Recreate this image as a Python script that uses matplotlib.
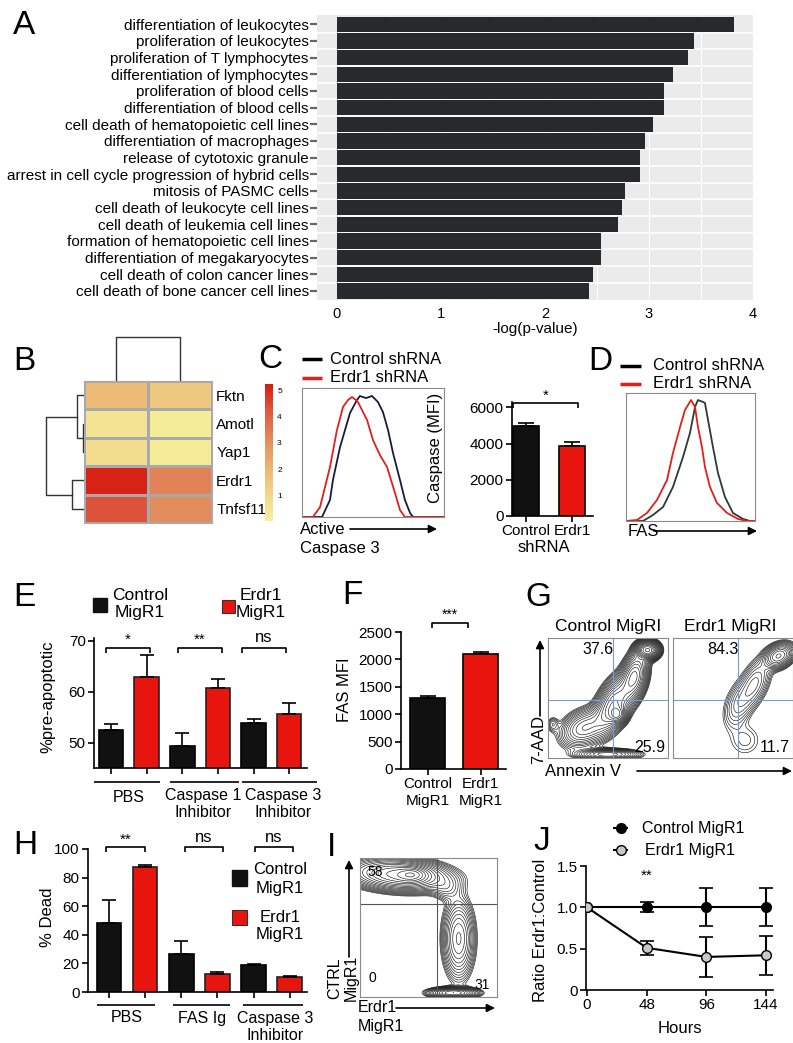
import numpy as np
import matplotlib.pyplot as plt
from matplotlib.colors import LinearSegmentedColormap, Normalize
from matplotlib.cm import ScalarMappable
from matplotlib.patches import Rectangle

plt.rcParams['font.family'] = ['Liberation Sans', 'DejaVu Sans']

RED = '#e8140e'
BLK = '#111111'

# ---------------- data ----------------
# A: IPA pathway terms
go_terms = ['differentiation of leukocytes', 'proliferation of leukocytes',
            'proliferation of T lymphocytes', 'differentiation of lymphocytes',
            'proliferation of blood cells', 'differentiation of blood cells',
            'cell death of hematopoietic cell lines', 'differentiation of macrophages',
            'release of cytotoxic granule', 'arrest in cell cycle progression of hybrid cells',
            'mitosis of PASMC cells', 'cell death of leukocyte cell lines',
            'cell death of leukemia cell lines', 'formation of hematopoietic cell lines',
            'differentiation of megakaryocytes', 'cell death of colon cancer lines',
            'cell death of bone cancer cell lines']
go_logp = [3.82, 3.43, 3.38, 3.23, 3.14, 3.14, 3.04, 2.96, 2.91, 2.91,
           2.77, 2.74, 2.70, 2.54, 2.54, 2.46, 2.42]

# B: heatmap
hm_genes = ['Fktn', 'Amotl', 'Yap1', 'Erdr1', 'Tnfsf11']
hm_values = np.array([[1.9, 1.5], [0.6, 0.2], [0.8, 0.3], [5.1, 3.3], [4.3, 3.1]])
# row dendrogram merges: (row a, row b, height)
row_merges = [(1, 2, 0.4), (0, 1.5, 2.6), (3, 4, 4.6), (0.75, 3.5, 14.5)]
col_merge_height = 3.0

# C: caspase 3 histograms
c_red_x = [0, 7.7, 12.7, 19.7, 24.6, 28.9, 32.4, 35.2, 38.0, 39.4, 45.8, 50.0, 54.9, 59.9, 65.5, 69.0, 72.5, 100]
c_red_y = [0, 0, 7.7, 38.7, 67.4, 85.3, 90.7, 93.0, 90.7, 89.1, 75.2, 59.6, 48.0, 38.7, 18.6, 5.4, 0, 0]
c_blk_x = [0, 14.1, 19.7, 21.8, 26.8, 33.8, 38.7, 40.8, 45.1, 49.3, 53.5, 57.0, 60.6, 64.1, 69.0, 72.5, 76.1, 78.2, 100]
c_blk_y = [0, 0, 13.2, 28.7, 54.3, 80.6, 90.7, 93.8, 92.2, 93.8, 89.1, 81.4, 67.4, 49.6, 28.7, 13.2, 3.1, 0, 0]
c_groups = ['Control', 'Erdr1']
c_mfi = [5000, 3850]
c_err = [150, 230]

# D: FAS histograms
d_red_x = [0, 8.5, 16.3, 24.0, 31.8, 36.4, 41.9, 45.7, 50.4, 53.5, 55.8, 58.9, 61.2, 65.1, 70.5, 78.3, 86.8, 93.8, 100]
d_red_y = [0, 0.8, 6.3, 16.4, 32.0, 53.1, 73.4, 86.7, 94.5, 89.1, 73.4, 57.8, 42.2, 26.6, 14.1, 6.3, 1.6, 0, 0]
d_blk_x = [0, 13.2, 20.9, 28.7, 36.4, 44.2, 49.6, 53.5, 55.8, 59.7, 61.2, 63.6, 67.4, 71.3, 76.7, 82.9, 90.7, 96.1, 100]
d_blk_y = [0, 0, 4.7, 10.9, 26.6, 50.0, 68.8, 89.1, 94.5, 93.0, 92.2, 78.9, 57.8, 37.5, 18.8, 6.3, 1.6, 0, 0]

# E: % pre-apoptotic
e_ctrl = [52.4, 49.4, 53.9]
e_ctrl_err = [1.2, 2.4, 0.7]
e_erdr1 = [62.8, 60.6, 55.5]
e_erdr1_err = [4.3, 1.9, 2.3]

# F: FAS MFI
f_groups = ['Control\nMigR1', 'Erdr1\nMigR1']
f_mfi = [1300, 2100]
f_err = [40, 35]

# G / I: flow populations (cx, cy, sx, sy, rho, weight) in % of plot range
g_ctrl_pops = [(83, 90, 5, 4, 0.0, 1.0), (72, 68, 6, 11, 0.3, 0.45), (55, 45, 9, 13, 0.5, 0.45),
               (58, 36, 4, 4, 0.0, 0.35), (30, 25, 11, 9, 0.3, 0.25), (50, 3, 14, 2.5, 0.0, 0.3),
               (4, 28, 3, 4, 0.0, 0.06)]
g_erdr1_pops = [(88, 85, 6, 5, 0.3, 1.0), (68, 62, 7, 11, 0.5, 0.25),
                (55, 45, 7, 11, 0.4, 0.15), (60, 15, 9, 9, 0.0, 0.05)]
i_pops = [(28, 88, 19, 6, -0.2, 1.0), (38, 88, 6, 3, 0.0, 0.6), (72, 42, 6, 15, 0.0, 0.5),
          (68, 3, 9, 2, 0.0, 0.9), (63, 78, 6, 5, 0.0, 0.12)]

# H: % dead
h_ctrl = [48, 26.5, 19]
h_ctrl_err = [16, 9, 0.6]
h_erdr1 = [87.5, 12.5, 10.8]
h_erdr1_err = [1.5, 1.2, 0.6]

# J: ratio over time
j_hours = [0, 48, 96, 144]
j_ctrl = [1.0, 1.0, 1.0, 1.0]
j_ctrl_err = [0, 0.06, 0.23, 0.23]
j_erdr1 = [1.0, 0.51, 0.40, 0.42]
j_erdr1_err = [0, 0.085, 0.24, 0.235]

# ---------------- figure ----------------
W, H = 793, 1043
fig = plt.figure(figsize=(W / 100, H / 100), dpi=100)


def axp(x0, y0, x1, y1):
    return fig.add_axes([x0 / W, 1 - y1 / H, (x1 - x0) / W, (y1 - y0) / H])


def prism(ax):
    for s in ['top', 'right']:
        ax.spines[s].set_visible(False)
    for s in ['left', 'bottom']:
        ax.spines[s].set_linewidth(1.2)
    ax.tick_params(width=1.2, length=4, labelsize=11, pad=2)


def box(ax, color='#8a8a8a'):
    for s in ax.spines.values():
        s.set_color(color)
        s.set_linewidth(0.8)
    ax.set_xticks([])
    ax.set_yticks([])


def density(pops, n=220):
    gx, gy = np.meshgrid(np.linspace(0, 100, n), np.linspace(0, 100, n))
    z = np.zeros_like(gx)
    for cx, cy, sx, sy, rho, w in pops:
        dx = (gx - cx) / sx
        dy = (gy - cy) / sy
        z += w * np.exp(-(dx * dx - 2 * rho * dx * dy + dy * dy) / (2 * (1 - rho ** 2)))
    return gx, gy, z


def flow(ax, pops, vx, hy, qcolor, nlev=16):
    gx, gy, z = density(pops)
    levels = z.max() * np.geomspace(0.025, 0.94, nlev)
    ax.contour(gx, gy, z, levels=levels, colors='#1a1a1a', linewidths=0.45)
    ax.axvline(vx, color=qcolor, lw=0.8)
    ax.axhline(hy, color=qcolor, lw=0.8)
    ax.set_xlim(0, 100)
    ax.set_ylim(0, 100)


# ---- A ----
axA = axp(317, 15, 754, 300)
ya = np.arange(len(go_terms))
axA.set_facecolor('#ebebeb')
for g in np.arange(0.5, 4.01, 0.5):
    axA.axvline(g, color='white', lw=0.8, zorder=1)
for g in ya[:-1] + 0.5:
    axA.axhline(g, color='white', lw=1.2, zorder=1)
axA.barh(ya, go_logp, height=0.92, color='#262a2a', zorder=3)
axA.set_xlim(-0.192, 4.01)
axA.set_ylim(len(go_terms) - 0.45, -0.55)
for s in axA.spines.values():
    s.set_visible(False)
axA.set_yticks(ya)
axA.set_yticklabels(go_terms, fontsize=11)
axA.tick_params(axis='y', length=5, width=1.6, color='#666666', pad=1)
axA.set_xticks([0, 1, 2, 3, 4])
axA.tick_params(axis='x', length=0, labelsize=10.5, pad=5)
axA.set_xlabel('-log(p-value)', fontsize=11, labelpad=1)

# ---- B ----
hm_cmap = LinearSegmentedColormap.from_list(
    'hm', ['#f6f09a', '#f1d68a', '#eab372', '#e38a5b', '#dc5a40', '#d61c10'])
hm_norm = Normalize(0.05, 5.23)
axB = axp(84, 381, 212, 523)
axB.pcolormesh(np.arange(3) - 0.5, np.arange(6) - 0.5, hm_values, cmap=hm_cmap, norm=hm_norm,
               edgecolors='#a9a9a9', linewidth=0.8)
axB.set_xlim(-0.5, 1.5)
axB.set_ylim(4.5, -0.5)
for s in axB.spines.values():
    s.set_color('#a9a9a9')
    s.set_linewidth(0.8)
axB.set_xticks([])
axB.set_yticks(range(len(hm_genes)))
axB.set_yticklabels(hm_genes, fontsize=11)
axB.yaxis.tick_right()
axB.tick_params(axis='y', length=0, pad=3)

# row dendrogram from merge list
axRD = axp(44, 381, 84, 523)
node_h = {}
for a, b, h in row_merges:
    ha = node_h.get(a, 0)
    hb = node_h.get(b, 0)
    axRD.plot([ha, h, h, hb], [a, a, b, b], color='#333333', lw=1)
    node_h[(a + b) / 2] = h
axRD.set_xlim(15.3, 0)
axRD.set_ylim(4.5, -0.5)
axRD.axis('off')

axCD = axp(84, 330, 212, 381)
axCD.plot([0, 0, 1, 1], [0, col_merge_height, col_merge_height, 0], color='#333333', lw=1)
axCD.set_xlim(-0.5, 1.5)
axCD.set_ylim(0, 3.45)
axCD.axis('off')

axCB = axp(265, 384, 273, 521)
cb = fig.colorbar(ScalarMappable(norm=hm_norm, cmap=hm_cmap), cax=axCB)
cb.outline.set_visible(False)
cb.set_ticks([1, 2, 3, 4, 5])
axCB.tick_params(length=0, labelsize=6, pad=3)

# ---- C ----
axC1 = axp(302, 388, 444, 517)
axC1.plot(c_blk_x, c_blk_y, color='#1a1a40', lw=1.3)
axC1.plot(c_red_x, c_red_y, color='#e0201a', lw=1.3)
axC1.set_xlim(0, 100)
axC1.set_ylim(0, 100)
box(axC1)

axC2 = axp(512, 402, 593, 516)
xc = np.arange(len(c_groups))
axC2.bar(xc, c_mfi, 0.56, color=[BLK, RED], edgecolor='black', lw=1.2)
axC2.errorbar(xc, c_mfi, yerr=[np.zeros(len(xc)), c_err], fmt='none', ecolor='black',
              elinewidth=1.2, capsize=6, capthick=1.2)
axC2.set_xlim(-0.3, 1.45)
axC2.set_ylim(0, 6300)
axC2.set_yticks([0, 2000, 4000, 6000])
axC2.set_xticks(xc)
axC2.set_xticklabels(c_groups, fontsize=12)
prism(axC2)
axC2.set_ylabel('Caspase (MFI)', fontsize=12)
axC2.yaxis.set_label_coords(-0.85, 0.6)

# ---- D ----
axD = axp(626, 393, 755, 521)
axD.plot(d_blk_x, d_blk_y, color='#2b3b33', lw=1.3)
axD.plot(d_red_x, d_red_y, color='#e0201a', lw=1.3)
axD.set_xlim(0, 100)
axD.set_ylim(0, 100)
box(axD)

# ---- E ----
axE = axp(94, 638, 307, 768)
xe = np.arange(3) * 2
axE.bar(xe, e_ctrl, 0.69, color=BLK, edgecolor='black', lw=1.2)
axE.bar(xe + 1, e_erdr1, 0.69, color=RED, edgecolor='#222222', lw=1.2)
axE.errorbar(xe, e_ctrl, yerr=[np.zeros(3), e_ctrl_err], fmt='none', ecolor='black',
             elinewidth=1.2, capsize=5, capthick=1.2)
axE.errorbar(xe + 1, e_erdr1, yerr=[np.zeros(3), e_erdr1_err], fmt='none', ecolor='black',
             elinewidth=1.2, capsize=5, capthick=1.2)
axE.set_xlim(-0.48, 5.5)
axE.set_ylim(45, 70.5)
axE.set_yticks([50, 60, 70])
axE.set_xticks(np.arange(6))
axE.set_xticklabels([])
prism(axE)
axE.set_ylabel('%pre-apoptotic', fontsize=12)
axE.yaxis.set_label_coords(-0.183, 0.546)

# ---- F ----
axF = axp(401, 632, 506, 769)
xf = np.arange(len(f_groups))
axF.bar(xf, f_mfi, 0.66, color=[BLK, RED], edgecolor='black', lw=1.2)
axF.errorbar(xf, f_mfi, yerr=[np.zeros(len(xf)), f_err], fmt='none', ecolor='black',
             elinewidth=1.2, capsize=6, capthick=1.2)
axF.set_xlim(-0.5, 1.48)
axF.set_ylim(0, 2500)
axF.set_yticks(np.arange(0, 2501, 500))
axF.set_xticks(xf)
axF.set_xticklabels(f_groups, fontsize=11.5, linespacing=1.2)
prism(axF)
axF.set_ylabel('FAS MFI', fontsize=12)
axF.yaxis.set_label_coords(-0.47, 0.58)

# ---- G ----
axG1 = axp(548, 638, 668, 758)
flow(axG1, g_ctrl_pops, 54.2, 48.3, '#7f9ad0', nlev=20)
box(axG1)
axG2 = axp(673, 638, 793, 758)
flow(axG2, g_erdr1_pops, 54.2, 48.3, '#7f9ad0', nlev=14)
box(axG2)

# ---- H ----
axH = axp(88, 849, 307, 992)
xh = np.arange(3) * 2
axH.bar(xh, h_ctrl, 0.68, color=BLK, edgecolor='black', lw=1.2)
axH.bar(xh + 1, h_erdr1, 0.68, color=RED, edgecolor='#222222', lw=1.2)
axH.errorbar(xh, h_ctrl, yerr=[np.zeros(3), h_ctrl_err], fmt='none', ecolor='black',
             elinewidth=1.2, capsize=5, capthick=1.2)
axH.errorbar(xh + 1, h_erdr1, yerr=[np.zeros(3), h_erdr1_err], fmt='none', ecolor='black',
             elinewidth=1.2, capsize=5, capthick=1.2)
axH.set_xlim(-0.58, 5.48)
axH.set_ylim(0, 100)
axH.set_yticks(np.arange(0, 101, 20))
axH.set_xticks(np.arange(6))
axH.set_xticklabels([])
prism(axH)
axH.set_ylabel('% Dead', fontsize=12)
axH.yaxis.set_label_coords(-0.15, 0.52)

# ---- I ----
axI = axp(360, 858, 497, 997)
flow(axI, i_pops, 56.2, 66.9, '#555555', nlev=18)
box(axI)

# ---- J ----
axJ = axp(586, 866, 773, 990)
axJ.errorbar(j_hours, j_ctrl, yerr=j_ctrl_err, color='black', lw=1.5, capsize=5, capthick=1.2,
             marker='o', ms=7, mfc='black', mec='black', zorder=3)
axJ.errorbar(j_hours, j_erdr1, yerr=j_erdr1_err, color='black', lw=1.5, capsize=5, capthick=1.2,
             marker='o', ms=7, mfc='#c8c8c8', mec='black', zorder=4)
axJ.set_xlim(-0.8, 149.6)
axJ.set_ylim(0, 1.5)
axJ.set_xticks(j_hours)
axJ.set_yticks([0, 0.5, 1.0, 1.5])
axJ.set_yticklabels(['0', '0.5', '1.0', '1.5'])
prism(axJ)
axJ.set_xlabel('Hours', fontsize=12, labelpad=6)
axJ.set_ylabel('Ratio Erdr1:Control', fontsize=12)
axJ.yaxis.set_label_coords(-0.205, 0.48)

# ---------------- annotations overlay (pixel coords) ----------------
ov = fig.add_axes([0, 0, 1, 1], zorder=10)
ov.set_xlim(0, W)
ov.set_ylim(H, 0)
ov.axis('off')


def T(x, y, s, size=12, ha='center', va='center', **kw):
    ov.text(x, y, s, fontsize=size, ha=ha, va=va, **kw)


def L(xs, ys, color='black', lw=1.2):
    ov.plot(xs, ys, color=color, lw=lw, solid_capstyle='butt')


def bracket(x0, x1, y, label, ty, size=11):
    L([x0, x0, x1, x1], [y + 5, y, y, y + 5])
    T((x0 + x1) / 2, ty, label, size=size)


def arrow(x0, y0, x1, y1):
    ov.annotate('', xy=(x1, y1), xytext=(x0, y0),
                arrowprops=dict(arrowstyle='-|>', color='black', lw=1.2, mutation_scale=12,
                                shrinkA=0, shrinkB=0))


for letter, x, y in [('A', 24, 25), ('B', 24, 361), ('C', 270, 360), ('D', 600, 362),
                     ('E', 24, 598), ('F', 352, 595), ('G', 538, 597), ('H', 25, 846),
                     ('I', 332, 848), ('J', 542, 842)]:
    T(x, y, letter, size=24)

# C legend / axis
L([302, 322], [359, 359], lw=2.5)
T(330, 359, 'Control shRNA', ha='left')
L([302, 322], [378, 378], color='#e0201a', lw=2.5)
T(330, 378, 'Erdr1 shRNA', ha='left')
T(300, 529, 'Active', ha='left')
arrow(350, 529, 437, 529)
T(300, 548, 'Caspase 3', ha='left')
bracket(513, 578, 403, '*', 396)
T(544, 548, 'shRNA', size=12)

# D legend / axis
L([620, 641], [366, 366], lw=2.5)
T(653, 366, 'Control shRNA', ha='left')
L([620, 641], [384, 384], color='#e0201a', lw=2.5)
T(653, 384, 'Erdr1 shRNA', ha='left')
T(628, 532, 'FAS', ha='left')
arrow(654, 531, 757, 531)

# E legend / brackets / groups
ov.add_patch(Rectangle((93, 598), 14, 14, color=BLK))
T(140, 604, 'Control\nMigR1', size=12.5, linespacing=1.25)
ov.add_patch(Rectangle((222, 600), 13, 13, facecolor=RED, edgecolor='#333333', lw=0.8))
T(261, 604, 'Erdr1\nMigR1', size=12.5, linespacing=1.25)
bracket(106, 150, 648, '*', 640)
bracket(178, 222, 648, '**', 640)
bracket(242, 286, 648, 'ns', 638, size=12)
L([94, 160], [782, 782])
L([170, 239], [782, 782])
L([242, 317], [782, 782])
T(129, 798, 'PBS', size=11.5)
T(203, 804, 'Caspase 1\nInhibitor', size=11.5, linespacing=1.2)
T(283, 804, 'Caspase 3\nInhibitor', size=11.5, linespacing=1.2)

# F bracket
bracket(432, 468, 623, '***', 615, size=10)

# G labels
T(608, 627, 'Control MigRI', size=12.5)
T(730, 627, 'Erdr1 MigRI', size=12.5)
T(598, 650, '37.6', size=11.5)
T(650, 748, '25.9', size=11.5)
T(723, 650, '84.3', size=11.5)
T(775, 748, '11.7', size=11.5)
arrow(540, 716, 540, 640)
T(539, 740, '7-AAD', rotation=90)
T(583, 772, 'Annexin V')
arrow(637, 771, 792, 771)

# H legend / brackets / groups
ov.add_patch(Rectangle((232, 870), 15, 16, color=BLK))
T(280, 879, 'Control\nMigR1', size=12, linespacing=1.25)
ov.add_patch(Rectangle((232, 910), 15, 15, facecolor=RED, edgecolor='#333333', lw=0.8))
T(280, 926, 'Erdr1\nMigR1', size=12, linespacing=1.25)
bracket(106, 145, 847, '**', 840)
bracket(185, 223, 847, 'ns', 838, size=12)
bracket(255, 293, 847, 'ns', 838, size=12)
L([97, 155], [1005, 1005])
L([173, 230], [1005, 1005])
L([243, 303], [1005, 1005])
T(127, 1018, 'PBS', size=11.5)
T(202, 1018, 'FAS Ig', size=11.5)
T(275, 1027, 'Caspase 3\nInhibitor', size=11.5, linespacing=1.2)

# I labels
T(375, 872, '58', size=10)
T(372, 978, '0', size=10)
T(482, 985, '31', size=10)
arrow(349, 957, 349, 860)
T(343, 978, 'CTRL\nMigR1', rotation=90, size=11.5, linespacing=1.1)
T(358, 1017, 'Erdr1\nMigR1', ha='left', size=11.5, linespacing=1.25)
arrow(396, 1008, 495, 1008)

# J legend
L([613, 628], [828, 828], lw=1.5)
ov.plot([620.5], [828], 'o', ms=7, mfc='black', mec='black')
T(642, 828, 'Control MigR1', ha='left', size=11.5)
L([613, 628], [850, 850], lw=1.5)
ov.plot([620.5], [850], 'o', ms=7, mfc='#c8c8c8', mec='black')
T(645, 850, 'Erdr1 MigR1', ha='left', size=11.5)
T(647, 876, '**', size=11)

fig.savefig('out.png', dpi=100)
